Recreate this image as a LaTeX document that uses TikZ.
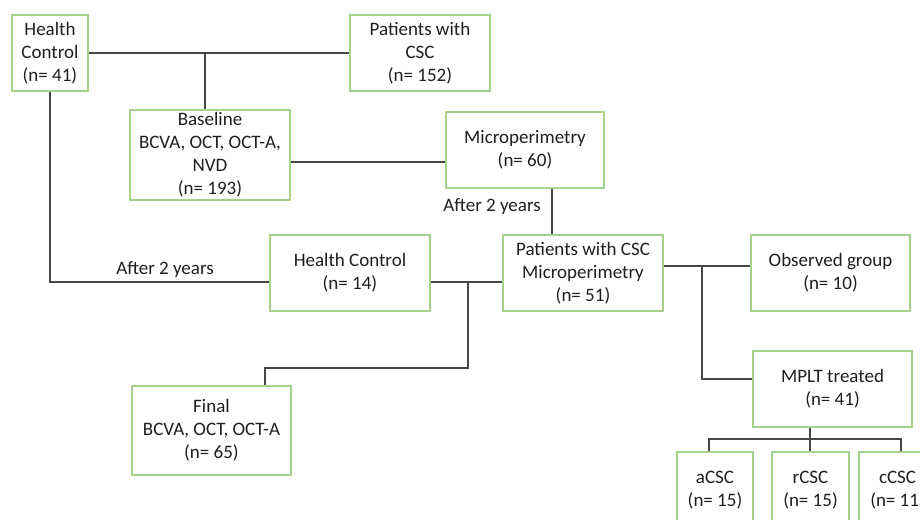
\documentclass[tikz,border=0pt]{standalone}
\usepackage{fontspec}
\setmainfont{Carlito}
\begin{document}
\begin{tikzpicture}[x=1pt,y=-1pt,
  box/.style={draw=boxgreen,line width=1.2pt,fill=white,align=center,inner sep=0pt,
    font=\fontsize{19}{23}\selectfont,text=black!88},
  conn/.style={draw=black!72,line width=1.1pt},
  lbl/.style={font=\fontsize{19}{23}\selectfont,text=black!88,inner sep=0pt}]
\definecolor{boxgreen}{RGB}{169,209,142}
\fill[white] (0,0) rectangle (920,519);
\useasboundingbox (0,0) rectangle (920,519);
\clip (0,0) rectangle (920,519);

\node[box,minimum width=76,minimum height=76] (hc) at (50,53) {Health\\Control\\(n= 41)};
\node[box,minimum width=140,minimum height=76] (csc) at (420,53) {Patients with\\CSC\\(n= 152)};
\node[box,minimum width=160,minimum height=90] (base) at (210,155) {Baseline\\BCVA, OCT, OCT-A,\\NVD\\(n= 193)};
\node[box,minimum width=158,minimum height=76] (micro) at (525,150) {Microperimetry\\(n= 60)};
\node[box,minimum width=160,minimum height=76] (hc14) at (350,273) {Health Control\\(n= 14)};
\node[box,minimum width=160,minimum height=76] (pat) at (583,273) {Patients with CSC\\Microperimetry\\(n= 51)};
\node[box,minimum width=159,minimum height=76] (obs) at (830.5,273) {Observed group\\(n= 10)};
\node[box,minimum width=159,minimum height=76] (mplt) at (832.5,389) {MPLT treated\\(n= 41)};
\node[box,minimum width=159,minimum height=89] (final) at (211.5,430.5) {Final\\BCVA, OCT, OCT-A\\(n= 65)};
\node[box,minimum width=76,minimum height=76] (acsc) at (715,490) {aCSC\\(n= 15)};
\node[box,minimum width=77,minimum height=76] (rcsc) at (810.5,490) {rCSC\\(n= 15)};
\node[box,minimum width=77,minimum height=76] (ccsc) at (897.5,490) {cCSC\\(n= 11)};

\node[lbl] (l1) at (492,207) {After 2 years};
\node[lbl] (l2) at (165,270) {After 2 years};

\coordinate (j1) at (205,53);
\coordinate (j2) at (468,282);
\coordinate (j3) at (702,266);
\coordinate (j4) at (810,439);

\draw[conn] (hc.east |- j1) -- (csc.west |- j1);
\draw[conn] (j1) -- (j1 |- base.north);
\draw[conn] (base.east |- 0,162) -- (micro.west |- 0,162);
\draw[conn] (micro.south -| 552,0) -- (pat.north -| 552,0);
\draw[conn] (hc.south) -- (hc.south |- j2) -- (hc14.west |- j2);
\draw[conn] (hc14.east |- j2) -- (pat.west |- j2);
\draw[conn] (j2) -- (468,368) -- (265,368) -- (final.north -| 265,0);
\draw[conn] (pat.east |- j3) -- (obs.west |- j3);
\draw[conn] (j3) -- (702,379) -- (mplt.west |- 0,379);
\draw[conn] (mplt.south -| j4) -- (rcsc.north -| j4);
\draw[conn] (acsc.north -| 709,0) -- (709,439) -- (901,439) -- (ccsc.north -| 901,0);
\end{tikzpicture}
\end{document}
